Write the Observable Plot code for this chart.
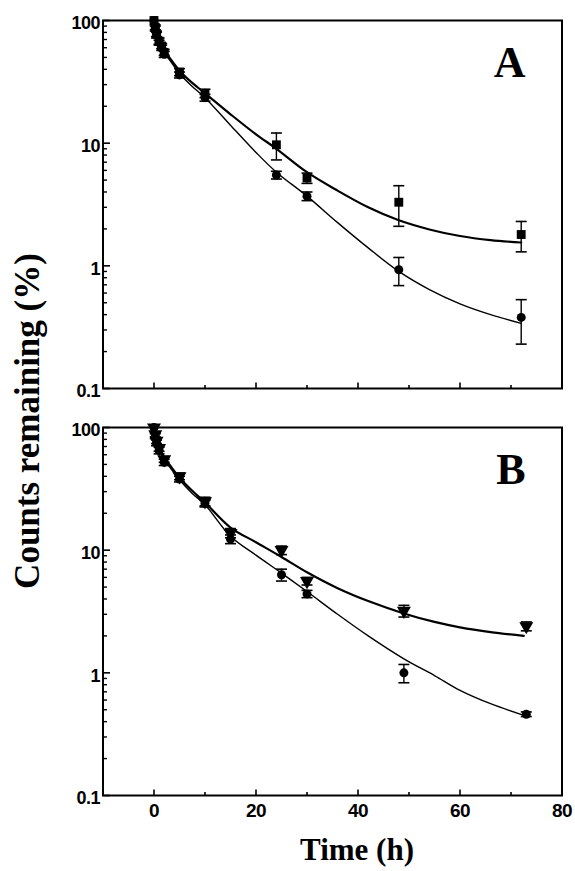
<!DOCTYPE html>
<html>
<head>
<meta charset="utf-8">
<script src="https://cdn.jsdelivr.net/npm/d3@7"></script>
<script src="https://cdn.jsdelivr.net/npm/@observablehq/plot@0.6"></script>
<style>
  body { margin: 0; background: #fff; }
  #wrap { position: relative; width: 575px; height: 871px; background: #fff; overflow: hidden; }
  #ylab { position: absolute; left: 27px; top: 421px; transform: translate(-50%, -50%) rotate(-90deg);
          white-space: nowrap; font: bold 35px/1 "Liberation Serif", "Times New Roman", serif; color: #000; }
  #xlab { position: absolute; left: 357px; top: 833px; transform: translateX(-50%);
          white-space: nowrap; font: bold 31px/1.1 "Liberation Serif", "Times New Roman", serif; color: #000; }
</style>
</head>
<body>
<div id="wrap">
  <div id="chart"></div>
  <div id="ylab">Counts remaining (%)</div>
  <div id="xlab">Time (h)</div>
</div>
<script>
// ---- Data ----
const panels = ["A", "B"];

// Panel A measured points
const timesA = [0, 0.25, 0.5, 1, 1.5, 2, 5, 10, 24, 30, 48, 72];
const upperA = [100, 88, 78, 68, 62, 55, 38, 25.5, 9.7, 5.2, 3.3, 1.8];
const upperErrA = [0, 4, 4, 4, 3, 3, 2.5, 2, 2.4, 0.5, 1.2, 0.5];
const lowerA = [100, 86, 76, 66, 60, 53, 36, 23.5, 5.5, 3.7, 0.93, 0.38];
const lowerErrA = [0, 4, 4, 3, 3, 3, 2, 1.5, 0.4, 0.3, 0.24, 0.15];

// Panel B measured points
const timesB = [0, 0.25, 0.5, 1, 2, 5, 10, 15, 25, 30, 49, 73];
const upperB = [100, 88, 78, 68, 55, 40, 25, 13.8, 10, 5.6, 3.2, 2.4];
const upperErrB = [0, 4, 4, 4, 3, 2.5, 2, 1.2, 0.8, 0.4, 0.35, 0.2];
const lowerB = [100, 85, 75, 65, 52, 38, 24, 12.3, 6.3, 4.4, 1.0, 0.46];
const lowerErrB = [0, 4, 4, 4, 3, 2, 1.5, 1, 0.7, 0.3, 0.17, 0.02];

// Fitted curves
const curveTA = [0, 0.5, 1, 2, 3, 5, 7.5, 10, 15, 20, 24, 30, 36, 42, 48, 54, 60, 66, 72];
const curveUpperA = [100, 82, 70, 57, 50, 39, 31, 25.5, 17.2, 11.8, 9.0, 5.8, 4.1, 3.0, 2.35, 1.98, 1.75, 1.62, 1.55];
const curveLowerA = [100, 80, 68, 55, 48, 37, 29, 23.5, 14, 8.4, 5.8, 3.7, 2.25, 1.4, 0.9, 0.64, 0.49, 0.4, 0.34];

const curveTB = [0, 0.5, 1, 2, 3, 5, 7.5, 10, 15, 20, 25, 30, 36, 42, 49, 55, 60, 66, 72.5];
const curveUpperB = [100, 82, 70, 57, 50, 39, 30.5, 24.5, 15.3, 11.6, 8.8, 6.6, 4.9, 3.85, 3.05, 2.6, 2.35, 2.15, 2.0];
const curveLowerB = [100, 80, 68, 55, 48, 37.5, 29, 23.5, 13, 9.1, 6.5, 4.6, 3.0, 2.0, 1.3, 0.95, 0.72, 0.56, 0.45];

// Axis ticks
const xMajor = [0, 20, 40, 60, 80];
const xMinor = [10, 30, 50, 70];
const yMajor = [0.1, 1, 10, 100];
const yMinor = [0.2, 0.3, 0.4, 0.5, 0.6, 0.7, 0.8, 0.9, 2, 3, 4, 5, 6, 7, 8, 9, 20, 30, 40, 50, 60, 70, 80, 90];

// ---- Build tables ----
function rows(panel, times, vals, errs) {
  return times.map((t, i) => ({panel, t, v: vals[i], e: errs ? errs[i] : 0}));
}
const ptsUpperA = rows("A", timesA, upperA, upperErrA);
const ptsLowerA = rows("A", timesA, lowerA, lowerErrA);
const ptsUpperB = rows("B", timesB, upperB, upperErrB);
const ptsLowerB = rows("B", timesB, lowerB, lowerErrB);
const allPts = [...ptsUpperA, ...ptsLowerA, ...ptsUpperB, ...ptsLowerB];
const errPts = allPts.filter(d => d.e > 0);

const curvesUpper = [...rows("A", curveTA, curveUpperA), ...rows("B", curveTB, curveUpperB)];
const curvesLower = [...rows("A", curveTA, curveLowerA), ...rows("B", curveTB, curveLowerB)];

// custom symbols
const hline = {draw(ctx, size) { const r = Math.sqrt(size / Math.PI); ctx.moveTo(-r, 0); ctx.lineTo(r, 0); }};
const tickRight = {draw(ctx, size) { const r = Math.sqrt(size / Math.PI); ctx.moveTo(0, 0); ctx.lineTo(r, 0); }};
const tickUp = {draw(ctx, size) { const r = Math.sqrt(size / Math.PI); ctx.moveTo(0, 0); ctx.lineTo(0, -r); }};

const font = {fontFamily: "Liberation Sans, Arial, sans-serif", fontWeight: "bold", fontSize: 18};

const chart = Plot.plot({
  width: 575,
  height: 830,
  marginLeft: 102.5,
  marginRight: 13.5,
  marginTop: 20,
  marginBottom: 34,
  style: "background: white; font-family: 'Liberation Sans', Arial, sans-serif; font-weight: bold; font-size: 18px; letter-spacing: -0.5px; color: black;",
  x: {domain: [-10, 80]},
  y: {type: "log", domain: [0.1, 100]},
  fy: {domain: panels, paddingInner: 0.0957, paddingOuter: 0, axis: null, label: null},
  marks: [
    Plot.frame({strokeWidth: 2, stroke: "black"}),
    // inward ticks
    Plot.dot(yMajor, {y: d => d, frameAnchor: "left", symbol: tickRight, r: 7, stroke: "black", strokeWidth: 1.6, fill: "none"}),
    Plot.dot(yMinor, {y: d => d, frameAnchor: "left", symbol: tickRight, r: 4, stroke: "black", strokeWidth: 1.4, fill: "none"}),
    Plot.dot(xMajor.filter(d => d < 80), {x: d => d, frameAnchor: "bottom", symbol: tickUp, r: 6, stroke: "black", strokeWidth: 1.6, fill: "none"}),
    Plot.dot(xMinor, {x: d => d, frameAnchor: "bottom", symbol: tickUp, r: 3.5, stroke: "black", strokeWidth: 1.6, fill: "none"}),
    Plot.axisY({ticks: yMajor, tickSize: 0, tickPadding: 3, dy: 3, label: null, tickFormat: d => String(d), ...font}),
    Plot.axisX({ticks: xMajor, tickSize: 0, tickPadding: 8, label: null, tickFormat: d => String(d), ...font, fontSize: 19}),
    // fitted curves
    Plot.line(curvesUpper, {x: "t", y: "v", fy: "panel", z: "panel", curve: "catmull-rom", stroke: "black", strokeWidth: 2.2}),
    Plot.line(curvesLower, {x: "t", y: "v", fy: "panel", z: "panel", curve: "catmull-rom", stroke: "black", strokeWidth: 1.4}),
    // error bars
    Plot.ruleX(errPts, {x: "t", y1: d => d.v - d.e, y2: d => d.v + d.e, fy: "panel", stroke: "black", strokeWidth: 1.4}),
    Plot.dot(errPts, {x: "t", y: d => d.v + d.e, fy: "panel", symbol: hline, r: 5.5, stroke: "black", strokeWidth: 1.6, fill: "none"}),
    Plot.dot(errPts, {x: "t", y: d => d.v - d.e, fy: "panel", symbol: hline, r: 5.5, stroke: "black", strokeWidth: 1.6, fill: "none"}),
    // markers
    Plot.dot(ptsUpperA, {x: "t", y: "v", fy: "panel", symbol: "square", r: 5, fill: "black", stroke: "none"}),
    Plot.dot(ptsLowerA, {x: "t", y: "v", fy: "panel", symbol: "circle", r: 4.5, fill: "black", stroke: "none"}),
    Plot.dot(ptsUpperB, {x: "t", y: "v", fy: "panel", symbol: "triangle", rotate: 180, r: 5.2, fill: "black", stroke: "none"}),
    Plot.dot(ptsLowerB, {x: "t", y: "v", fy: "panel", symbol: "circle", r: 4.5, fill: "black", stroke: "none"}),
    // panel letters
    Plot.text(panels, {fy: d => d, text: d => d, frameAnchor: "top-right", textAnchor: "end", lineAnchor: "bottom",
      dx: -37, dy: 56, fontSize: 44, fontWeight: "bold", fontFamily: "Liberation Serif, Times New Roman, serif", fill: "black"})
  ]
});
document.getElementById("chart").appendChild(chart);
</script>
</body>
</html>
